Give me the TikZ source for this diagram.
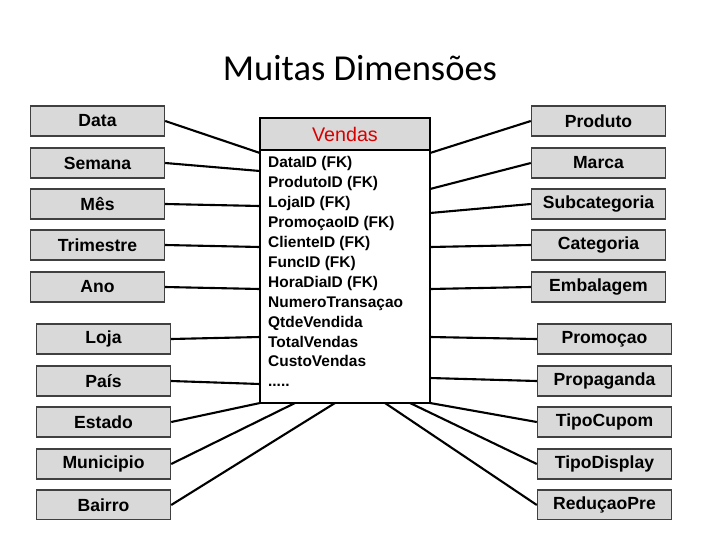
\documentclass[tikz,border=0pt]{standalone}
\usepackage{fontspec}
\setmainfont{Liberation Sans}
\newfontfamily\titlefont{Carlito}
\usetikzlibrary{calc}

\begin{document}
\begin{tikzpicture}[x=0.5mm, y=-0.5mm,
  dim/.style={draw=black!75, fill=black!15, line width=2pt, minimum width=67mm,
    minimum height=15mm, inner sep=0pt, font=\bfseries\fontsize{25}{25}\selectfont},
  link/.style={line width=3pt}]
\useasboundingbox[fill=white] (0, 0) rectangle (720, 540);
\node[font=\titlefont\fontsize{52}{52}\selectfont] (title) at (360, 68) {Muitas Dimensões};

% fact table
\draw[fill=black!15, line width=2pt] (260, 118) rectangle (430, 150);
\draw[fill=white, line width=2pt] (260, 150) rectangle (430, 403);
\node[text=red!85!black, font=\fontsize{28}{28}\selectfont] (vendas) at (345, 134) {Vendas};
\node[anchor=north west, align=left, inner sep=0pt,
  font=\bfseries\fontsize{22}{28.4}\selectfont] (campos) at (268, 156)
  {DataID (FK)\\ProdutoID (FK)\\LojaID (FK)\\PromoçaoID (FK)\\ClienteID (FK)\\
   FuncID (FK)\\HoraDiaID (FK)\\NumeroTransaçao\\QtdeVendida\\TotalVendas\\
   CustoVendas\\.....};

% dimensions
\foreach \nome/\y/\tx/\ty [count=\i] in {Data/121/260/153, Semana/163/260/171,
    Mês/204/260/206, Trimestre/245/260/247, Ano/287/260/289}
  {\node[dim] (l\i) at (97.5, \y) {\nome};
   \coordinate (cl\i) at (\tx, \ty);
   \draw[link] (l\i.east) -- (cl\i);}
\foreach \nome/\y/\tx/\ty [count=\i from 6] in {Loja/339/260/337, País/381/260/384,
    Estado/422/260/403, Municipio/464/295/403, Bairro/505/335/403}
  {\node[dim] (l\i) at (103.5, \y) {\nome};
   \coordinate (cl\i) at (\tx, \ty);
   \draw[link] (l\i.east) -- (cl\i);}
\foreach \nome/\y/\tx/\ty [count=\i] in {Produto/121/430/153, Marca/163/430/189,
    Subcategoria/204/430/213, Categoria/245/430/247, Embalagem/287/430/289}
  {\node[dim] (r\i) at (598.5, \y) {\nome};
   \coordinate (cr\i) at (\tx, \ty);
   \draw[link] (r\i.west) -- (cr\i);}
\foreach \nome/\y/\tx/\ty [count=\i from 6] in {Promoçao/339/430/337,
    Propaganda/381/430/378, TipoCupom/422/430/403, TipoDisplay/464/410/403,
    ReduçaoPre/505/385/403}
  {\node[dim] (r\i) at (604.5, \y) {\nome};
   \coordinate (cr\i) at (\tx, \ty);
   \draw[link] (r\i.west) -- (cr\i);}
\fill[white] (0, 520) rectangle (720, 540);
\end{tikzpicture}
\end{document}
